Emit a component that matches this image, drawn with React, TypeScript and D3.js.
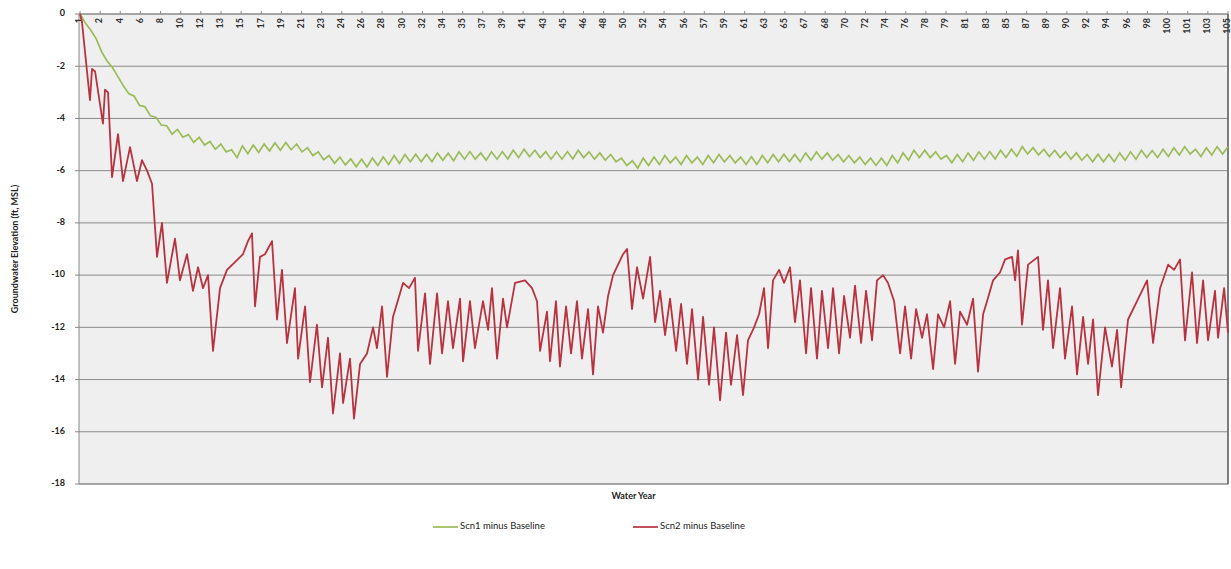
import React from "react";
import * as d3 from "d3";

// ---- data ----
const yTicks = [0, -2, -4, -6, -8, -10, -12, -14, -16, -18];

const xTickLabels = [
  "1", "2", "4", "6", "8", "10", "12", "13", "15", "17", "19", "21", "23", "24", "26", "28", "30", "32", "34", "35",
  "37", "39", "41", "43", "45", "46", "48", "50", "52", "54", "56", "57", "59", "61", "63", "65", "67", "68", "70", "72",
  "74", "76", "78", "79", "81", "83", "85", "87", "89", "90", "92", "94", "96", "98", "100", "101", "103", "105",
];

// Scn1: alternating seasonal high (whole year) / low (half year)
const greenValues = [
  0, -0.35, -0.62, -0.95, -1.45, -1.8, -2.05, -2.4, -2.75, -3.05, -3.15, -3.5, -3.55, -3.9, -3.95, -4.25,
  -4.28, -4.6, -4.42, -4.72, -4.62, -4.92, -4.72, -5.02, -4.88, -5.18, -4.98, -5.28, -5.2, -5.5, -5.05, -5.35,
  -5.02, -5.3, -4.98, -5.25, -4.93, -5.22, -4.92, -5.2, -4.98, -5.28, -5.12, -5.42, -5.28, -5.58, -5.42, -5.72,
  -5.48, -5.78, -5.55, -5.85, -5.56, -5.86, -5.52, -5.8, -5.48, -5.76, -5.42, -5.72, -5.38, -5.66, -5.37, -5.66,
  -5.38, -5.66, -5.32, -5.6, -5.33, -5.62, -5.28, -5.56, -5.27, -5.56, -5.32, -5.6, -5.28, -5.56, -5.27, -5.55,
  -5.22, -5.5, -5.18, -5.46, -5.22, -5.5, -5.27, -5.56, -5.28, -5.56, -5.27, -5.55, -5.22, -5.5, -5.28, -5.56,
  -5.32, -5.6, -5.38, -5.66, -5.52, -5.8, -5.62, -5.9, -5.52, -5.8, -5.48, -5.76, -5.42, -5.7, -5.48, -5.76,
  -5.42, -5.7, -5.48, -5.76, -5.42, -5.7, -5.38, -5.66, -5.42, -5.7, -5.48, -5.76, -5.47, -5.76, -5.42, -5.7,
  -5.38, -5.66, -5.37, -5.65, -5.38, -5.66, -5.32, -5.6, -5.28, -5.56, -5.32, -5.6, -5.38, -5.66, -5.42, -5.7,
  -5.48, -5.76, -5.52, -5.8, -5.52, -5.8, -5.42, -5.7, -5.32, -5.6, -5.22, -5.5, -5.22, -5.5, -5.28, -5.56,
  -5.42, -5.7, -5.38, -5.66, -5.32, -5.6, -5.28, -5.56, -5.27, -5.55, -5.22, -5.5, -5.18, -5.45, -5.08, -5.36,
  -5.12, -5.4, -5.18, -5.46, -5.22, -5.5, -5.28, -5.56, -5.32, -5.6, -5.38, -5.66, -5.37, -5.66, -5.38, -5.66,
  -5.32, -5.6, -5.28, -5.56, -5.22, -5.5, -5.23, -5.5, -5.18, -5.46, -5.12, -5.4, -5.08, -5.36, -5.18, -5.46,
  -5.12, -5.4, -5.08, -5.36, -5.08,
];

// Scn2: turning points (water year, value)
const redYears = [
  0, 0.18, 0.92, 1.11, 1.39, 2.12, 2.31, 2.59, 2.96, 3.51, 3.97, 4.62, 5.26, 5.72, 6.19, 6.65, 7.11, 7.57, 8.03, 8.77,
  9.23, 9.88, 10.43, 10.9, 11.36, 11.82, 12.28, 12.93, 13.57, 14.31, 15.05, 15.51, 15.88, 16.16, 16.62, 17.08, 17.73, 18.19, 18.65, 19.11,
  19.85, 20.14, 20.78, 21.24, 21.88, 22.35, 22.9, 23.36, 24.01, 24.29, 24.93, 25.3, 25.86, 26.5, 27.06, 27.42, 27.89, 28.35, 28.9, 29.83,
  30.38, 30.93, 31.21, 31.86, 32.32, 32.97, 33.43, 33.98, 34.44, 35.09, 35.37, 36.01, 36.47, 37.21, 37.68, 38.04, 38.51, 39.06, 39.43, 40.17,
  41.09, 41.74, 42.2, 42.48, 43.12, 43.4, 43.95, 44.32, 44.88, 45.34, 45.89, 46.35, 46.91, 47.37, 47.83, 48.29, 48.76, 49.22, 49.68, 50.14,
  50.51, 50.97, 51.43, 51.99, 52.64, 53.1, 53.56, 54.02, 54.48, 55.04, 55.5, 56.05, 56.51, 57.07, 57.53, 58.08, 58.54, 59.1, 59.65, 60.11,
  60.67, 61.22, 61.68, 62.24, 62.7, 63.16, 63.53, 63.99, 64.55, 65.01, 65.56, 66.02, 66.48, 67.04, 67.5, 68.05, 68.51, 69.07, 69.53, 70.09,
  70.55, 71.1, 71.56, 72.12, 72.58, 73.13, 73.59, 74.15, 74.61, 75.17, 75.72, 76.18, 76.74, 77.2, 77.75, 78.21, 78.77, 79.23, 79.79, 80.34,
  80.8, 81.26, 81.91, 82.46, 82.92, 83.39, 83.75, 84.31, 84.95, 85.42, 86.06, 86.34, 86.61, 86.98, 87.54, 88.46, 88.92, 89.38, 89.85, 90.49,
  90.95, 91.6, 92.06, 92.62, 93.08, 93.54, 94.0, 94.65, 95.29, 95.76, 96.13, 96.77, 97.6, 98.53, 99.08, 99.73, 100.47, 101.02, 101.57, 102.03,
  102.68, 103.14, 103.7, 104.16, 104.8, 105.08, 105.64, 106.0,
];
const redValues = [
  0, -0.3, -3.3, -2.1, -2.2, -4.2, -2.9, -3.0, -6.25, -4.6, -6.4, -5.1, -6.4, -5.6, -6.0, -6.5, -9.3, -8.0, -10.3, -8.6,
  -10.2, -9.2, -10.6, -9.7, -10.5, -10.0, -12.9, -10.5, -9.8, -9.5, -9.2, -8.7, -8.4, -11.2, -9.3, -9.2, -8.7, -11.7, -9.8, -12.6,
  -10.5, -13.2, -11.2, -14.1, -11.9, -14.3, -12.4, -15.3, -13.0, -14.9, -13.2, -15.5, -13.4, -13.0, -12.0, -12.8, -11.2, -13.9, -11.6, -10.3,
  -10.5, -10.1, -12.9, -10.7, -13.4, -10.7, -13.0, -11.0, -12.8, -10.9, -13.3, -11.0, -12.8, -11.0, -12.1, -10.5, -13.2, -10.9, -12.0, -10.3,
  -10.2, -10.5, -11.0, -12.9, -11.4, -13.3, -11.0, -13.5, -11.2, -13.0, -11.0, -13.2, -11.3, -13.8, -11.2, -12.2, -10.8, -10.0, -9.6, -9.2,
  -9.0, -11.3, -9.7, -10.9, -9.3, -11.8, -10.6, -12.3, -10.9, -12.9, -11.1, -13.4, -11.3, -14.0, -11.6, -14.2, -12.0, -14.8, -12.2, -14.2,
  -12.3, -14.6, -12.5, -12.0, -11.5, -10.5, -12.8, -10.2, -9.8, -10.3, -9.7, -11.8, -10.2, -13.0, -10.5, -13.2, -10.6, -12.8, -10.5, -13.0,
  -10.8, -12.4, -10.4, -12.6, -10.6, -12.5, -10.2, -10.0, -10.3, -11.0, -13.0, -11.2, -13.2, -11.3, -12.4, -11.5, -13.6, -11.5, -12.0, -11.0,
  -13.4, -11.4, -11.9, -10.9, -13.7, -11.5, -11.0, -10.2, -9.9, -9.4, -9.3, -10.2, -9.05, -11.9, -9.6, -9.3, -12.1, -10.2, -12.8, -10.5,
  -13.2, -11.2, -13.8, -11.6, -13.4, -11.7, -14.6, -12.0, -13.5, -12.1, -14.3, -11.7, -11.0, -10.2, -12.6, -10.5, -9.6, -9.8, -9.4, -12.5,
  -9.9, -12.6, -10.2, -12.5, -10.6, -12.4, -10.5, -12.2,
];

const seriesNames = ["Scn1 minus Baseline", "Scn2 minus Baseline"];
const seriesColors = ["#9bbb59", "#b8323f"];

const W = 1231;
const H = 569;
const M = { left: 79, right: 1228, top: 14, bottom: 484 };
const FONT = "Lato, 'Open Sans', sans-serif";

export default function App() {
  const x = d3.scaleLinear().domain([0, 106]).range([M.left + 1, M.right]);
  const y = d3.scaleLinear().domain([-18, 0]).range([M.bottom, M.top]);

  const greenPts: [number, number][] = greenValues.map((v, i) => [i * 0.5, v]);
  const redPts: [number, number][] = redYears.map((t, i) => [t, redValues[i]]);
  const line = d3
    .line<[number, number]>()
    .x((d) => x(d[0]))
    .y((d) => y(d[1]));

  const tickPos = d3.scaleLinear().domain([0, xTickLabels.length - 1]).range([0, 106]);

  return (
    <svg
      width={W}
      height={H}
      style={{ position: "absolute", left: 0, top: 0, background: "#fff" }}
      fontFamily={FONT}
    >
      <rect x={M.left} y={M.top} width={M.right - M.left} height={M.bottom - M.top} fill="#efefef" />
      {yTicks.map((v) => (
        <line key={v} x1={M.left - 4} x2={M.right} y1={y(v)} y2={y(v)} stroke="#8a8a8a" strokeWidth={1} />
      ))}
      <rect
        x={M.left}
        y={M.top}
        width={M.right - M.left}
        height={M.bottom - M.top}
        fill="none"
        stroke="#8a8a8a"
        strokeWidth={1}
      />
      <line x1={M.right} x2={M.right} y1={M.top} y2={M.bottom} stroke="#666" strokeWidth={1.5} />
      {yTicks.map((v) => (
        <text
          key={"yl" + v}
          x={M.left - 14}
          y={y(v)}
          textAnchor="end"
          dominantBaseline="middle"
          fontSize={9}
          fontWeight="bold"
          fill="#222"
        >
          {v}
        </text>
      ))}
      {xTickLabels.map((lab, i) => {
        const px = x(tickPos(i));
        return (
          <g key={"xt" + i}>
            <line x1={px} x2={px} y1={M.top - 3} y2={M.top} stroke="#8a8a8a" />
            <text
              transform={`translate(${px},${M.top + 4}) rotate(-90)`}
              textAnchor="end"
              dominantBaseline="middle"
              fontSize={9}
              fontWeight="bold"
              fill="#333"
            >
              {lab}
            </text>
          </g>
        );
      })}
      <path d={line(greenPts) || ""} fill="none" stroke={seriesColors[0]} strokeWidth={1.7} />
      <path d={line(redPts) || ""} fill="none" stroke={seriesColors[1]} strokeWidth={1.8} strokeLinejoin="round" />

      <text
        transform={`translate(16,${(M.top + M.bottom) / 2}) rotate(-90)`}
        textAnchor="middle"
        dominantBaseline="middle"
        fontSize={9}
        fontWeight="bold"
        fill="#222"
      >
        Groundwater Elevation (ft, MSL)
      </text>
      <text x={(M.left + M.right) / 2 - 20} y={499} textAnchor="middle" fontSize={9} fontWeight="bold" fill="#222">
        Water Year
      </text>

      {seriesNames.map((name, i) => {
        const lx = 433 + i * 200;
        return (
          <g key={name}>
            <line x1={lx} x2={lx + 25} y1={527} y2={527} stroke={seriesColors[i]} strokeWidth={1.7} />
            <text x={lx + 27} y={527} dominantBaseline="middle" fontSize={9.5} fill="#222">
              {name}
            </text>
          </g>
        );
      })}
    </svg>
  );
}
